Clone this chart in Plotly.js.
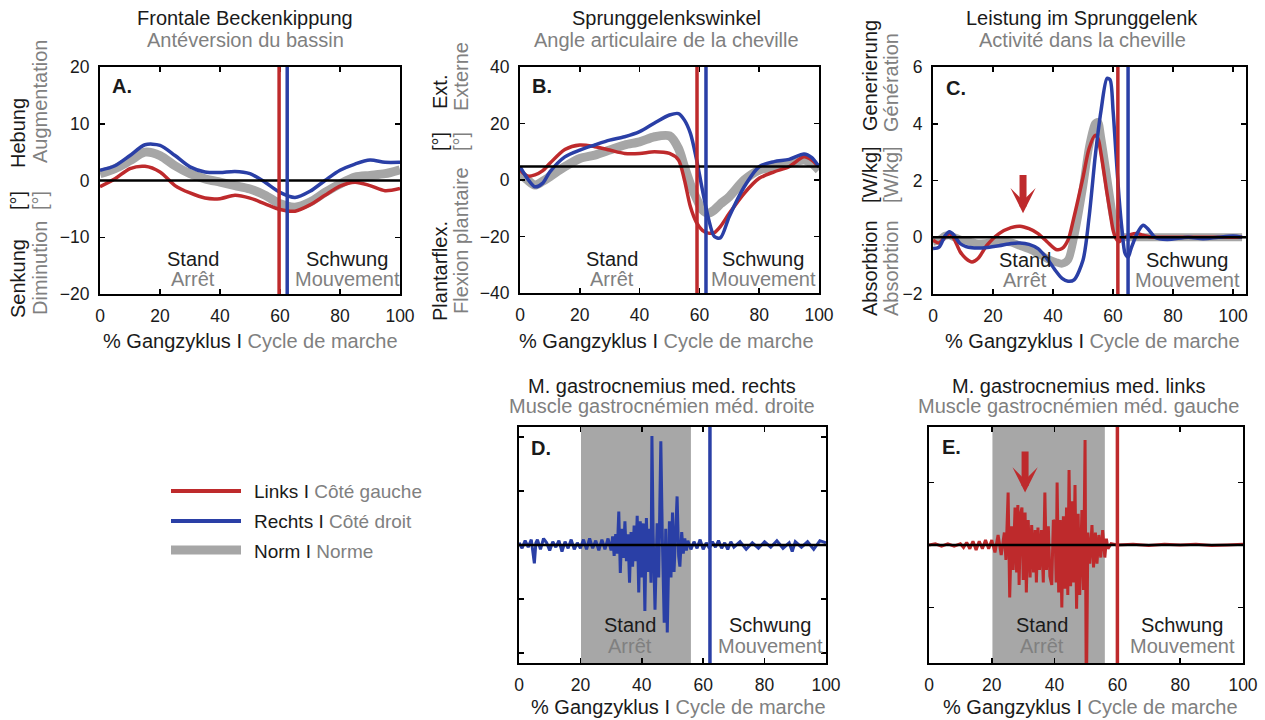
<!DOCTYPE html>
<html><head><meta charset="utf-8">
<script src="https://cdn.plot.ly/plotly-3.0.1.min.js"></script>
<style>html,body{margin:0;padding:0;background:#fff}</style>
</head><body><div id="chart" style="width:1265px;height:720px"></div>
<script>
// ---------- DATA ----------
// Panel A: Frontale Beckenkippung (deg)
const xA = [0,5,10,15,20,25,30,35,40,45,50,55,60,65,70,75,80,85,90,95,100];
const aLeft  = [-1.1,0.3,2.1,2.5,1.5,-0.9,-2.2,-3.1,-3.2,-2.6,-3.1,-4.1,-5.1,-5.4,-4.3,-2.6,-1.0,-0.3,-0.9,-1.8,-1.4];
const aRight = [1.8,2.6,4.4,6.3,6.2,4.4,2.4,1.5,1.4,1.6,1.2,-0.3,-2.1,-3.0,-1.9,0,1.8,2.9,3.6,3.2,3.2];
const aNorm  = [1.2,2.1,3.5,5.0,4.4,2.6,1.2,0.3,-0.3,-0.9,-1.5,-2.6,-4.1,-4.7,-3.8,-2.1,-0.6,0.6,0.9,1.2,1.9];

// Panel B: Sprunggelenkswinkel (deg)
const xB = [0,2.5,5,7.5,10,15,20,25,30,35,40,45,50,53,55,57,59,61,63,65,67,70,75,80,85,90,95,97.5,100];
const bLeft  = [3.5,1.4,1.8,3.2,5.9,10.8,12.4,11.8,10.6,9.4,9.4,10.0,9.4,7.1,0,-9.5,-15.0,-17.8,-18.8,-18.6,-16.5,-11.8,-4.7,0.6,2.9,4.7,8.2,7.1,4.7];
const bRight = [4.7,0.5,-2.4,-1.2,2.9,8.2,10.6,12.4,14.1,15.3,17.1,20.2,23.0,23.5,21.2,16.5,7.5,-3.5,-13.5,-20.0,-20.5,-12.9,-2.4,4.7,6.5,7.3,9.2,8.0,4.7];
const bNorm  = [2.4,0,-1.8,-0.5,1.2,4.7,7.6,8.8,10.6,12.4,13.5,15.3,15.6,11.2,4.7,-1.5,-6.5,-10.6,-11.8,-10.6,-8.5,-5.9,0,3.5,4.7,5.9,7.1,6.0,3.5];
const bRef = 4.8;

// Panel C: Leistung im Sprunggelenk (W/kg)
const xC = [0,2,4,5.5,7,9,11,13,15,18,22,26,29,32,35,38,41,43,45,47,50,52,54,55,56,58,59,60,61,62,63,64,65,66,68,70,72,74,78,85,90,95,100,103];
const cLeft  = [-0.1,-0.2,0,0.13,-0.05,-0.5,-0.75,-0.87,-0.75,-0.28,0.13,0.34,0.39,0.3,0.13,-0.16,-0.43,-0.4,-0.1,0.72,2.12,3.12,3.59,3.47,2.94,1.54,0.9,0.25,-0.05,-0.16,-0.05,0,0.05,0.1,0.13,0.07,0.02,0,0,0,0,0,0,0];
const cRight = [-0.4,-0.35,0.05,0.19,0.07,-0.22,-0.33,-0.37,-0.38,-0.36,-0.3,-0.22,-0.2,-0.25,-0.4,-0.75,-1.2,-1.45,-1.55,-1.5,-0.8,0.7,2.8,3.7,4.47,5.6,5.55,4.47,2.9,1.4,0.25,-0.57,-0.7,-0.4,0.13,0.42,0.25,0,-0.08,0,-0.05,0,0.04,0];
const cNorm  = [-0.16,-0.1,0.05,0.07,0,-0.08,-0.12,-0.18,-0.22,-0.2,-0.16,-0.18,-0.3,-0.42,-0.57,-0.75,-0.88,-0.93,-0.8,0,1.77,3.18,4.0,4.06,3.53,2.12,1.4,0.72,0.4,0.13,0.03,0,0,0,0,0,0,0,0,0,0,0,0,0];

// Panel D: EMG M. gastrocnemius med. rechts (normalised)
const xD = [0,1,2,3,4,4.5,5,5.5,6,7,8,9,10,11,12,13,14,15,16,17,18,19,20,21,22,23,24,25,26,27,28,29,30,30.5,31,31.5,32,32.5,33,33.5,34,34.5,35,35.5,36,36.5,37,37.5,38,38.5,39,39.5,40,40.5,41,41.5,42,42.5,43,43.3,43.7,44.3,45,45.5,46.2,46.7,47.3,47.8,48.3,49,49.5,50,50.5,51.5,52,52.4,53,53.5,54,54.5,55,56,57,58,59,60,61,62,63,64,65,66,67,68,69,70,72,74,76,78,80,82,84,86,88,89,90,92,94,96,98,100];
const dRight = [0.02,-0.03,0.04,-0.02,0.05,-0.05,-0.17,0.02,0.05,-0.04,0.06,0.02,-0.05,0.03,-0.02,0.04,-0.06,0.03,-0.03,0.05,-0.04,0.02,-0.03,0.05,-0.04,0.06,-0.03,0.04,-0.05,0.05,-0.04,0.06,-0.05,0.08,-0.1,0.1,-0.08,0.31,-0.26,0.15,-0.12,0.22,-0.15,0.1,-0.35,0.12,-0.2,0.18,-0.15,0.27,-0.44,0.22,-0.3,0.2,-0.61,0.25,-0.25,0.15,-0.35,1.01,0.1,-0.6,0.2,-0.3,0.96,0.05,-0.72,0.15,-0.81,0.22,-0.3,0.3,-0.25,0.45,-0.1,-0.2,0.12,-0.08,0.06,-0.05,0.04,-0.04,0.03,-0.03,0.05,-0.04,0.02,-0.03,0.03,-0.02,0.04,-0.03,0.02,-0.04,0.03,-0.02,0.03,-0.04,0.02,-0.03,0.03,-0.02,0.04,-0.03,0.02,-0.06,0.03,-0.02,0.03,-0.04,0.04,0.02];

// Panel E: EMG M. gastrocnemius med. links (normalised)
const xE = [0,2,4,6,8,10,11,12,13,14,15,16,17,18,19,20,21,22,23,24,24.5,25.2,25.7,26.3,26.8,27.4,27.9,28.3,28.7,29.2,29.6,30,30.6,31,31.6,32.2,32.7,33.3,33.8,34.2,34.7,35.2,35.8,36.4,36.9,37.4,38,38.5,39.1,39.6,40.1,40.5,40.8,41.3,41.8,42.3,42.8,43.3,43.8,44.2,44.6,45.1,45.5,46,46.5,47,47.5,48,48.7,49.2,49.7,50.1,50.6,51.2,51.9,52.4,53,53.5,54.1,54.7,55.3,56,56.5,57,58,60,65,70,75,80,85,90,95,100];
const eLeft = [0,0.01,-0.01,0.01,-0.01,0.01,-0.02,0.02,-0.03,0.03,-0.04,0.03,-0.03,0.04,-0.03,0.04,-0.06,0.08,-0.08,0.1,-0.12,0.42,-0.42,0.15,-0.2,0.3,-0.22,0.32,-0.32,0.25,0.3,-0.28,0.26,-0.38,0.2,-0.26,0.16,-0.22,0.12,-0.3,0.14,-0.2,0.12,-0.3,0.42,-0.2,0.15,-0.25,-0.32,0.2,0.18,-0.3,0.5,-0.38,0.2,-0.5,0.23,-0.35,0.3,-0.4,0.6,-0.33,0.35,-0.3,0.48,-0.51,0.25,-0.4,0.28,-0.36,0.84,-1.3,0.1,-0.15,0.16,-0.18,0.1,-0.15,0.08,-0.1,0.12,-0.1,0.05,-0.03,0.01,0,0.005,-0.005,0.005,0,0.005,-0.005,0,0.005];

// Phase markers (% gait cycle): toe-off left / right, norm stance band
const toeOffLeft  = [59.7, 59.2, 61.6, 60.0];   // A, B, C, E
const toeOffRight = [62.4, 62.2, 65.0, 62.2];   // A, B, C, D
const stanceBand  = [20.2, 56.0];

// Text
const xTitleDe = "% Gangzyklus I ", xTitleFr = "Cycle de marche";
const panelLetters = ["A.","B.","C.","D.","E."];

// ---------- STYLE ----------
const RED = "#be2a2c", BLUE = "#2a3fa6", GRAYN = "#a6a6a6", TXT = "#1a1a1a", TXT2 = "#808080";
const FONT = "Liberation Sans, Arial, sans-serif";
const FS = 20;
const W = 1265, H = 720;
const px = x => x / W, py = y => 1 - y / H;

function line(x, y, color, width, xa, ya, shape) {
  return {x: x, y: y, xaxis: xa, yaxis: ya, type: "scatter", mode: "lines",
    line: {color: color, width: width, shape: shape || "spline", smoothing: 0.8},
    hoverinfo: "skip", showlegend: false};
}

const traces = [
  line(xA, aNorm, GRAYN, 9, "x", "y"),
  line(xA, aLeft, RED, 3.5, "x", "y"),
  line(xA, aRight, BLUE, 3.5, "x", "y"),
  line(xB, bNorm, GRAYN, 9, "x2", "y2"),
  line(xB, bLeft, RED, 3.5, "x2", "y2"),
  line(xB, bRight, BLUE, 3.5, "x2", "y2"),
  line(xC, cNorm, GRAYN, 8, "x3", "y3"),
  line(xC, cLeft, RED, 3.5, "x3", "y3"),
  line(xC, cRight, BLUE, 3.5, "x3", "y3"),
  line(xD, dRight, BLUE, 3, "x4", "y4", "linear"),
  line(xE, eLeft, RED, 3, "x5", "y5", "linear")
];

function xax(d0, d1, range, anchor) {
  return {domain: [px(d0), px(d1)], range: range, anchor: anchor, dtick: 20, tick0: 0,
    showline: true, linecolor: "#000", linewidth: 2, mirror: "ticks", ticks: "inside",
    ticklen: 5, tickwidth: 1.5, tickcolor: "#000", showgrid: false, zeroline: false,
    tickfont: {family: FONT, size: 17.5, color: TXT}, ticklabelstandoff: 5, fixedrange: true};
}
function yax(t0, t1, range, dtick, anchor, labels) {
  return {domain: [py(t1), py(t0)], range: range, anchor: anchor, dtick: dtick, tick0: 0,
    showline: true, linecolor: "#000", linewidth: 2, mirror: "ticks", ticks: "inside",
    ticklen: 5, tickwidth: 1.5, tickcolor: "#000", showgrid: false, zeroline: false,
    showticklabels: labels, tickfont: {family: FONT, size: 17.5, color: TXT},
    ticklabelstandoff: 5, fixedrange: true};
}

const ann = [];
function T(text, x, y, o) {
  o = o || {};
  ann.push(Object.assign({text: text, x: px(x), y: py(y), xref: "paper", yref: "paper",
    showarrow: false, xanchor: "center", yanchor: "middle",
    font: {family: FONT, size: o.size || FS, color: o.color || TXT}}, o.extra || {}));
}
function V(text, x, y, color) {
  T(text, x, y, {color: color, extra: {textangle: -90}});
}

// titles
const titles = [
  ["Frontale Beckenkippung", "Antéversion du bassin", 245, 18, 40],
  ["Sprunggelenkswinkel", "Angle articulaire de la cheville", 667, 18, 40],
  ["Leistung im Sprunggelenk", "Activité dans la cheville", 1082, 18, 40],
  ["M. gastrocnemius med. rechts", "Muscle gastrocnémien méd. droite", 662, 386, 406],
  ["M. gastrocnemius med. links", "Muscle gastrocnémien méd. gauche", 1078, 386, 406]
];
titles.forEach(t => { T(t[0], t[2], t[3]); T(t[1], t[2], t[4], {color: TXT2}); });

// x-axis titles
[[250, 341], [667, 341], [1092, 341], [678, 707], [1090, 707]].forEach(p =>
  T(xTitleDe + "<span style='color:" + TXT2 + "'>" + xTitleFr + "</span>", p[0], p[1]));

// y-axis titles (rotated)
V("Senkung", 18, 279, TXT); V("[°]", 18, 201, TXT); V("Hebung", 18, 133, TXT);
V("Diminution", 40, 268, TXT2); V("[°]", 40, 201, TXT2); V("Augmentation", 40, 102, TXT2);
V("Plantarflex.", 440, 271, TXT); V("[°]", 440, 142, TXT); V("Ext.", 440, 92, TXT);
V("Flexion plantaire", 461, 241, TXT2); V("[°]", 461, 142, TXT2); V("Externe", 461, 77, TXT2);
V("Absorbtion", 870, 268, TXT); V("[W/kg]", 870, 175, TXT); V("Generierung", 870, 76, TXT);
V("Absorbtion", 891, 268, TXT2); V("[W/kg]", 891, 175, TXT2); V("Génération", 891, 83, TXT2);

// panel letters
[[122, 86], [542, 86], [956, 88], [541, 448], [951, 447]].forEach((p, i) =>
  T("<b>" + panelLetters[i] + "</b>", p[0], p[1], {size: 20}));

// phase labels
[[193, 259, 279, 347], [612, 259, 279, 763], [1025, 260, 280, 1187], [630, 625, 646, 770], [1042, 625, 646, 1182]].forEach(p => {
  T("Stand", p[0], p[1]); T("Arrêt", p[0], p[2], {color: TXT2});
  T("Schwung", p[3], p[1]); T("Mouvement", p[3], p[2], {color: TXT2});
});

// arrows
ann.push({x: 30, y: 0.85, ax: 30, ay: 2.25, xref: "x3", yref: "y3", axref: "x3", ayref: "y3",
  showarrow: true, arrowhead: 3, arrowsize: 0.6, arrowwidth: 7, arrowcolor: RED, text: "", standoff: 0});
ann.push({x: 30.6, y: 0.42, ax: 30.6, ay: 0.76, xref: "x5", yref: "y5", axref: "x5", ayref: "y5",
  showarrow: true, arrowhead: 3, arrowsize: 0.6, arrowwidth: 7, arrowcolor: RED, text: "", standoff: 0});

// legend text
T("Links I <span style='color:" + TXT2 + "'>Côté gauche</span>", 252, 491, {extra: {xanchor: "left"}, size: 19});
T("Rechts I <span style='color:" + TXT2 + "'>Côté droit</span>", 252, 521, {extra: {xanchor: "left"}, size: 19});
T("Norm I <span style='color:" + TXT2 + "'>Norme</span>", 252, 551, {extra: {xanchor: "left"}, size: 19});

// shapes
const shapes = [];
function vline(xref, yref, xv, color) {
  shapes.push({type: "line", xref: xref, yref: yref + " domain", x0: xv, x1: xv, y0: 0, y1: 1,
    line: {color: color, width: 3.5}, layer: "above"});
}
function hline(xref, yref, yv) {
  shapes.push({type: "line", xref: xref + " domain", yref: yref, x0: 0, x1: 1, y0: yv, y1: yv,
    line: {color: "#000", width: 2.5}, layer: "above"});
}
// stance bands
["x4", "x5"].forEach((xr, i) => shapes.push({type: "rect", xref: xr, yref: (i ? "y5" : "y4") + " domain",
  x0: stanceBand[0], x1: stanceBand[1], y0: 0, y1: 1, fillcolor: "#a7a7a7", line: {width: 0}, layer: "below"}));
hline("x", "y", 0); hline("x2", "y2", bRef); hline("x3", "y3", 0); hline("x4", "y4", 0); hline("x5", "y5", 0);
vline("x", "y", toeOffLeft[0], RED); vline("x", "y", toeOffRight[0], BLUE);
vline("x2", "y2", toeOffLeft[1], RED); vline("x2", "y2", toeOffRight[1], BLUE);
vline("x3", "y3", toeOffLeft[2], RED); vline("x3", "y3", toeOffRight[2], BLUE);
vline("x4", "y4", toeOffRight[3], BLUE);
vline("x5", "y5", toeOffLeft[3], RED);
// legend keys
[[491, RED, 4], [521, BLUE, 4], [550, GRAYN, 9]].forEach(k => shapes.push({type: "line", xref: "paper", yref: "paper",
  x0: px(171), x1: px(241), y0: py(k[0]), y1: py(k[0]), line: {color: k[1], width: k[2]}}));

const layout = {
  width: W, height: H, margin: {l: 0, r: 0, t: 0, b: 0},
  paper_bgcolor: "#fff", plot_bgcolor: "rgba(0,0,0,0)", showlegend: false,
  xaxis:  xax(100, 400, [0, 100], "y"),
  yaxis:  yax(67, 294, [-20, 20], 10, "x", true),
  xaxis2: xax(520, 819, [0, 100], "y2"),
  yaxis2: yax(67, 293, [-40, 40], 20, "x2", true),
  xaxis3: xax(933, 1246, [0, 104.3], "y3"),
  yaxis3: yax(67, 294, [-2, 6], 2, "x3", true),
  xaxis4: xax(519, 826, [0, 100], "y4"),
  yaxis4: yax(427, 663, [-1.093, 1.093], 0.5, "x4", false),
  xaxis5: xax(929, 1243, [0, 100], "y5"),
  yaxis5: yax(427, 663, [-0.944, 0.944], 0.5, "x5", false),
  annotations: ann, shapes: shapes
};
Plotly.newPlot("chart", traces, layout, {staticPlot: true, displayModeBar: false});
</script></body></html>
